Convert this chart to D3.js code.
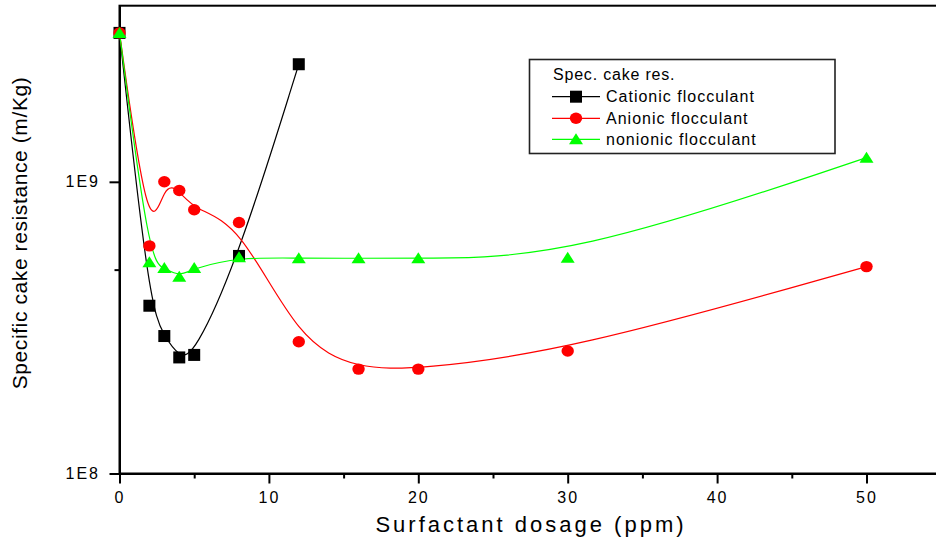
<!DOCTYPE html>
<html>
<head>
<meta charset="utf-8">
<script src="https://cdn.jsdelivr.net/npm/d3@7"></script>
<style>
body { margin: 0; background: #fff; }
svg { display: block; font-family: Arial, "Liberation Sans", sans-serif; }
</style>
</head>
<body>
<svg id="chart" width="936" height="541"></svg>
<script>
// data (dosage in ppm, resistance in m/Kg)
var dosage = [0, 2, 3, 4, 5, 8, 12, 16, 20, 30, 50];
var cationic = [3.24e9, 3.76e8, 2.96e8, 2.50e8, 2.55e8, 5.57e8, 2.53e9];
var anionic = [3.24e9, 6.03e8, 1.0e9, 9.34e8, 8.02e8, 7.25e8, 2.83e8, 2.28e8, 2.28e8, 2.63e8, 5.12e8];
var nonionic = [3.24e9, 5.30e8, 5.06e8, 4.73e8, 5.06e8, 5.51e8, 5.47e8, 5.47e8, 5.47e8, 5.49e8, 1.21e9];
var seriesNames = ["Cationic flocculant", "Anionic flocculant", "nonionic flocculant"];
var seriesColors = ["#000000", "#ff0000", "#00ff00"];
var seriesShapes = ["square", "circle", "triangle"];
var xTicks = [0, 10, 20, 30, 40, 50];
var xMinorTicks = [5, 15, 25, 35, 45];
var yTicks = [1e8, 1e9];
var yTickLabels = ["1E8", "1E9"];
var yMinorTicks = [5e8];

var svg = d3.select("#chart");

var x = d3.scaleLinear().domain([0, 55]).range([119.5, 941.2]);
var y = d3.scaleLog().domain([1e8, 4.016e9]).range([473.5, 5.7]);

// build the series
var series = [cationic, anionic, nonionic].map(function (vals, i) {
    return {
        name: seriesNames[i],
        color: seriesColors[i],
        shape: seriesShapes[i],
        points: vals.map(function (v, j) { return [dosage[j], v]; })
    };
});

// marker shapes
function marker(sel, shape, color) {
    if (shape === "square") {
        sel.append("rect").attr("x", -6).attr("y", -6).attr("width", 12).attr("height", 12).attr("fill", color);
    } else if (shape === "circle") {
        sel.append("ellipse").attr("rx", 6.2).attr("ry", 5.7).attr("fill", color);
    } else {
        sel.append("path").attr("d", "M0,-6 L7,5 L-7,5 Z").attr("fill", color);
    }
}

// frame
svg.append("rect")
    .attr("x", x(0)).attr("y", y.range()[1])
    .attr("width", x(55) - x(0)).attr("height", y.range()[0] - y.range()[1])
    .attr("fill", "none").attr("stroke", "#000").attr("stroke-width", 2);

// x axis
var gx = svg.append("g")
    .attr("transform", "translate(0," + y(1e8) + ")")
    .call(d3.axisBottom(x).tickValues(xTicks).tickSize(10).tickSizeOuter(0).tickPadding(8));
svg.append("g")
    .attr("transform", "translate(0," + y(1e8) + ")")
    .call(d3.axisBottom(x).tickValues(xMinorTicks).tickSize(5).tickSizeOuter(0).tickFormat(""));

// y axis
var gy = svg.append("g")
    .attr("transform", "translate(" + x(0) + ",0)")
    .call(d3.axisLeft(y).tickValues(yTicks).tickSize(10).tickSizeOuter(0).tickPadding(9.5)
        .tickFormat(function (d, i) { return yTickLabels[i]; }));
svg.append("g")
    .attr("transform", "translate(" + x(0) + ",0)")
    .call(d3.axisLeft(y).tickValues(yMinorTicks).tickSize(5).tickSizeOuter(0).tickFormat(""));

svg.selectAll(".domain").attr("stroke-width", 2);
svg.selectAll(".tick line").attr("stroke-width", 2);
svg.selectAll(".tick text")
    .style("font-family", "Arial, 'Liberation Sans', sans-serif")
    .style("font-size", "16px")
    .style("letter-spacing", "2px")
    .attr("fill", "#000");

// axis titles
svg.append("text")
    .attr("x", 531).attr("y", 532)
    .attr("text-anchor", "middle")
    .style("font-size", "22px")
    .style("letter-spacing", "3px")
    .text("Surfactant dosage (ppm)");

svg.append("text")
    .attr("transform", "translate(27,233)rotate(-90)")
    .attr("text-anchor", "middle")
    .style("font-size", "21px")
    .style("letter-spacing", "0.6px")
    .text("Specific cake resistance (m/Kg)");

// curves
var line = d3.line()
    .x(function (d) { return x(d[0]); })
    .y(function (d) { return y(d[1]); })
    .curve(d3.curveBasis);

series.forEach(function (s) {
    svg.append("path")
        .datum(s.points)
        .attr("d", line)
        .attr("fill", "none")
        .attr("stroke", s.color)
        .attr("stroke-width", 1.2);
});

// markers
series.forEach(function (s) {
    svg.append("g").selectAll("g")
        .data(s.points)
        .enter()
        .append("g")
        .attr("transform", function (d) { return "translate(" + x(d[0]) + "," + y(d[1]) + ")"; })
        .each(function () { marker(d3.select(this), s.shape, s.color); });
});

// legend
var legend = svg.append("g");
legend.append("rect")
    .attr("x", 529.5).attr("y", 59.5).attr("width", 305.5).attr("height", 94)
    .attr("fill", "#fff").attr("stroke", "#222").attr("stroke-width", 1.6);
legend.append("text")
    .attr("x", 553).attr("y", 80)
    .style("font-size", "16px").style("letter-spacing", "0.8px")
    .text("Spec. cake res.");

var rowY = [96.7, 118.3, 139.3];
series.forEach(function (s, i) {
    var row = legend.append("g").attr("transform", "translate(0," + rowY[i] + ")");
    row.append("line").attr("x1", 552).attr("x2", 600).attr("y1", 0).attr("y2", 0)
        .attr("stroke", s.color).attr("stroke-width", 1.2);
    marker(row.append("g").attr("transform", "translate(576,0)"), s.shape, s.color);
    row.append("text")
        .attr("x", 606).attr("y", 5.6)
        .style("font-size", "16px").style("letter-spacing", "1px")
        .text(s.name);
});
</script>
</body>
</html>
